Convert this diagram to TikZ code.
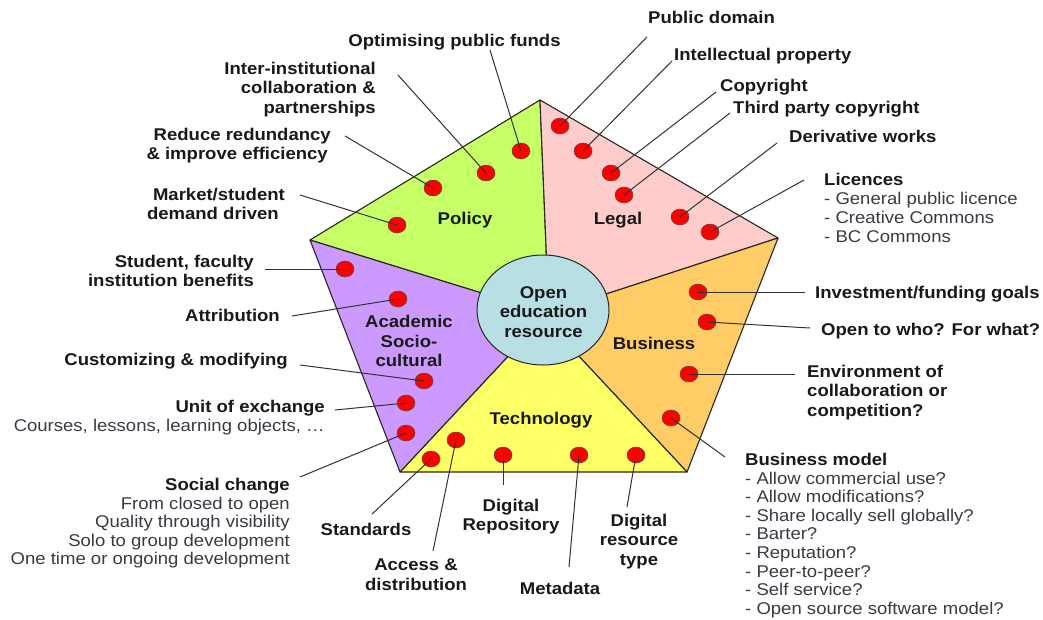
\documentclass[tikz,border=0pt]{standalone}
\usepackage{fontspec}
\setmainfont[FakeStretch=1.09]{Liberation Sans}
\usetikzlibrary{shapes.geometric}
\definecolor{cpol}{HTML}{C6FF66}
\definecolor{cleg}{HTML}{FFCCCC}
\definecolor{cbus}{HTML}{FFCC66}
\definecolor{ctec}{HTML}{FFFF66}
\definecolor{caca}{HTML}{CC99FF}
\definecolor{ccen}{HTML}{B8DFE3}
\definecolor{csub}{HTML}{3A3A44}
\newcommand\dotline[3]{%
  \node[reddot] (d#1) at (#2) {};
  \coordinate (e#1) at (#3);
  \draw[conn] (d#1.center) -- (e#1);
}
\newcommand\subt[1]{{\normalfont\fontsize{17}{19}\selectfont\color{csub}#1}}
\tikzset{
  sector/.style={draw=black!85, line width=1.1pt, line join=round},
  reddot/.style={ellipse, draw=black!70, line width=0.5pt, fill=red, minimum width=18pt, minimum height=16pt, inner sep=0pt},
  conn/.style={draw=black!80, line width=1pt},
  lbl/.style={inner sep=0pt, font=\fontsize{17}{19.3}\selectfont\bfseries, text=black!90, execute at begin node=\strut},
  secname/.style={inner sep=0pt, font=\fontsize{17}{19.3}\selectfont\bfseries, text=black!90, align=center},
}
\begin{document}
\begin{tikzpicture}[x=1pt,y=-1pt]
\useasboundingbox (0,0) rectangle (1043,619);
\fill[white] (0,0) rectangle (1043,619);
% junction coordinates
\coordinate (T) at (540,100);
\coordinate (R) at (778,238);
\coordinate (BR) at (687,472);
\coordinate (BL) at (400,472);
\coordinate (L) at (310,240);
\coordinate (iT) at (547,270);
\coordinate (iR) at (600,296);
\coordinate (iBR) at (575,352);
\coordinate (iBL) at (512,352);
\coordinate (iL) at (488,295);
% sectors
\draw[sector, fill=cpol] (T) -- (iT) -- (iL) -- (L) -- cycle;
\draw[sector, fill=cleg] (T) -- (R) -- (iR) -- (iT) -- cycle;
\draw[sector, fill=cbus] (R) -- (BR) -- (iBR) -- (iR) -- cycle;
\draw[sector, fill=ctec] (BR) -- (BL) -- (iBL) -- (iBR) -- cycle;
\draw[sector, fill=caca] (BL) -- (L) -- (iL) -- (iBL) -- cycle;
\node[ellipse, draw=black!85, line width=1pt, fill=ccen, minimum width=132pt, minimum height=110pt, inner sep=0pt] (hub) at (543,310) {};
\node[secname] (hubtext) at (543.5,312) {Open\\education\\resource};
\node[secname] (policy) at (465,220) {Policy};
\node[secname] (legal) at (618,220) {Legal};
\node[secname] (business) at (654,343.5) {Business};
\node[secname] (technology) at (541,420) {Technology};
\node[secname] (academic) at (409,341) {Academic\\Socio-\\cultural};
% markers and connectors
\dotline{pa}{521,151}{490,50}
\dotline{pb}{486,173}{398,75}
\dotline{pc}{433,188}{345,136}
\dotline{pd}{397,225}{300,195}
\dotline{la}{560,126}{647,37}
\dotline{lb}{583,151}{672,61}
\dotline{lc}{611,173}{716,92}
\dotline{ld}{624,195}{730,113}
\dotline{le}{680,217}{777,143}
\dotline{lf}{710,232}{804,180}
\dotline{ba}{698,292}{805,292}
\dotline{bb}{707,322}{810,328}
\dotline{bc}{689,374}{795,374}
\dotline{bd}{671,418}{725,457}
\dotline{ta}{636,455}{627,507}
\dotline{tb}{579,455}{569,567}
\dotline{tc}{503,455}{503,485}
\dotline{td}{456,440}{433,551}
\dotline{te}{431,459}{372,514}
\dotline{aa}{345,269}{265,269}
\dotline{ab}{398,299}{292,316}
\dotline{ac}{424,381}{300,365}
\dotline{ad}{406,403}{335,410}
\dotline{ae}{406,433}{300,477}
% labels
\node[lbl, anchor=north west] (tpublic) at (648,10) {Public domain};
\node[lbl, anchor=north west] (tip) at (674,47) {Intellectual property};
\node[lbl, anchor=north west] (tcopy) at (720,78) {Copyright};
\node[lbl, anchor=north west] (tthird) at (733,100) {Third party copyright};
\node[lbl, anchor=north west] (tderiv) at (789,129) {Derivative works};
\node[lbl, anchor=north west, align=left] (tlic) at (824,173) {Licences\\[-0.4pt]
  \subt{- General public licence}\\[-0.4pt]
  \subt{- Creative Commons}\\[-0.4pt]
  \subt{- BC Commons}};
\node[lbl, anchor=north west] (tinv) at (815,285) {Investment/funding goals};
\node[lbl, anchor=north west] (topen) at (821,322) {Open to who? For what?};
\node[lbl, anchor=north west, align=left] (tenv) at (807,365) {Environment of\\collaboration or\\competition?};
\node[lbl, anchor=north west, align=left] (tmodel) at (745,453) {Business model\\[-0.7pt]
  \subt{- Allow commercial use?}\\[-0.7pt]
  \subt{- Allow modifications?}\\[-0.7pt]
  \subt{- Share locally sell globally?}\\[-0.7pt]
  \subt{- Barter?}\\[-0.7pt]
  \subt{- Reputation?}\\[-0.7pt]
  \subt{- Peer-to-peer?}\\[-0.7pt]
  \subt{- Self service?}\\[-0.7pt]
  \subt{- Open source software model?}};
\node[lbl, anchor=north] (topt) at (454.5,33) {Optimising public funds};
\node[lbl, anchor=north east, align=right] (tinter) at (376,62) {Inter-institutional\\collaboration \&\\partnerships};
\node[lbl, anchor=north east, align=right] (tred) at (331,128) {Reduce redundancy\\\& improve efficiency\hspace*{3pt}};
\node[lbl, anchor=north east, align=right] (tmarket) at (285,188) {Market/student\\demand driven\hspace*{6pt}};
\node[lbl, anchor=north east, align=right] (tstud) at (254,255) {Student, faculty\\institution benefits};
\node[lbl, anchor=north east] (tattr) at (280,308) {Attribution};
\node[lbl, anchor=north east] (tcust) at (288,352) {Customizing \& modifying};
\node[lbl, anchor=north east, align=right] (tunit) at (325,400) {Unit of exchange\\[-0.4pt]
  \subt{Courses, lessons, learning objects, …}};
\node[lbl, anchor=north east, align=right] (tsoc) at (290,478) {Social change\\[-0.7pt]
  \subt{From closed to open}\\[-0.7pt]
  \subt{Quality through visibility}\\[-0.7pt]
  \subt{Solo to group development}\\[-0.7pt]
  \subt{One time or ongoing development}};
\node[lbl, anchor=north] (tstd) at (366,522) {Standards};
\node[lbl, anchor=north, align=center] (tacc) at (416,559) {Access \&\\distribution};
\node[lbl, anchor=north, align=center] (trepo) at (511,499) {Digital\\Repository};
\node[lbl, anchor=north] (tmeta) at (560,581) {Metadata};
\node[lbl, anchor=north, align=center] (tdrt) at (639,514) {Digital\\resource\\type};
\end{tikzpicture}
\end{document}
